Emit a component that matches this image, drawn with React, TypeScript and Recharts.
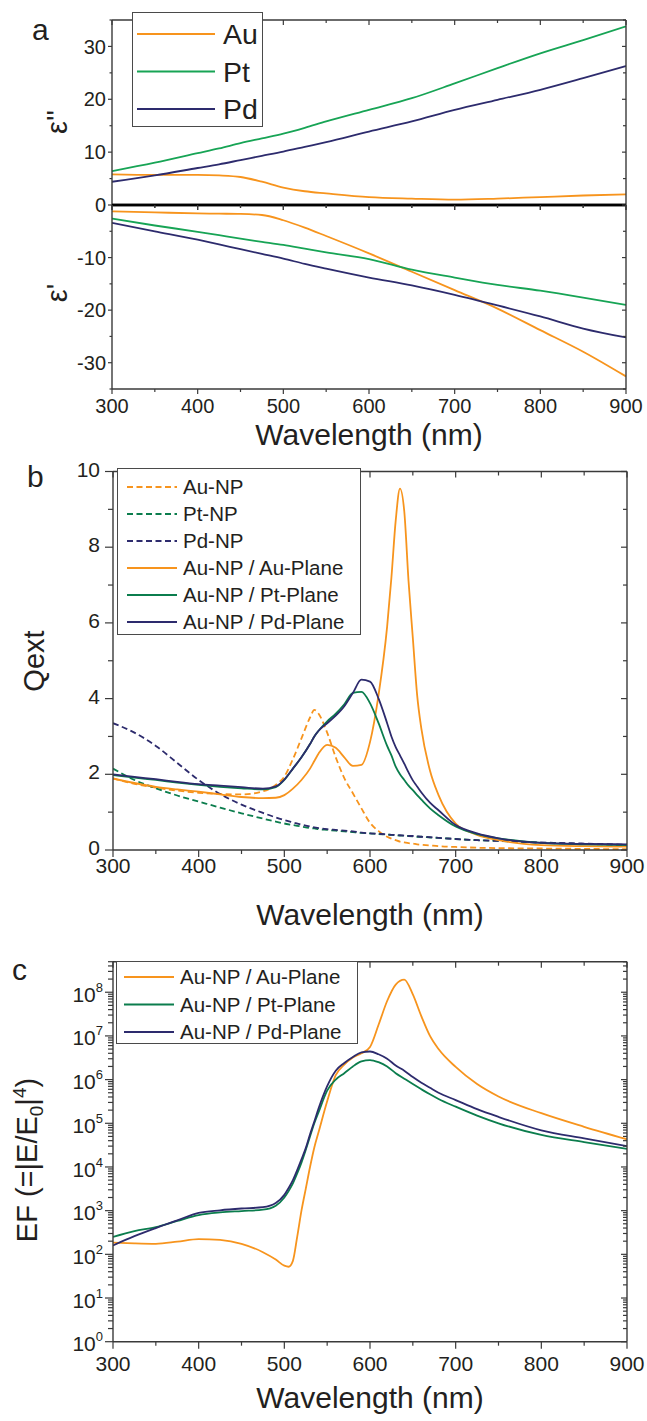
import React from "react";
import { Legend, Line, LineChart, XAxis, YAxis } from "recharts";

const FONT = '"Liberation Sans", Arial, Helvetica, sans-serif';
const INK = "#231f20";
const AXIS = "#3a3a3a";
const ORANGE = "#f7941d";
const GREEN_A = "#17a455";
const GREEN = "#0b7d4d";
const NAVY = "#2d2b6d";
const PAGE_W = 647;
const AX = 10;

// ---- panel a : dielectric function ----
const aWave = [300, 350, 400, 425, 450, 475, 500, 525, 550, 600, 650, 700, 750, 800, 850, 900];
const auEps2 = [5.8, 5.7, 5.7, 5.6, 5.3, 4.4, 3.3, 2.6, 2.2, 1.5, 1.2, 1.0, 1.2, 1.5, 1.8, 2.0];
const ptEps2 = [6.4, 8.0, 9.8, 10.7, 11.7, 12.6, 13.5, 14.6, 15.8, 18.0, 20.2, 23.0, 25.9, 28.7, 31.2, 33.8];
const pdEps2 = [4.4, 5.6, 7.0, 7.7, 8.5, 9.3, 10.1, 11.0, 11.9, 13.9, 15.8, 18.0, 19.9, 21.8, 24.0, 26.3];
const auEps1 = [-1.2, -1.4, -1.6, -1.65, -1.7, -1.9, -2.9, -4.3, -5.9, -9.2, -12.7, -16.2, -19.7, -23.8, -27.9, -32.6];
const ptEps1 = [-2.6, -3.9, -5.1, -5.75, -6.4, -7.0, -7.6, -8.3, -9.0, -10.3, -12.3, -13.8, -15.2, -16.3, -17.6, -19.0];
const pdEps1 = [-3.4, -5.0, -6.6, -7.5, -8.4, -9.3, -10.2, -11.2, -12.1, -13.8, -15.3, -17.1, -19.1, -21.2, -23.5, -25.2];

// ---- panel b : extinction efficiency ----
const bWave = [
  300, 325, 350, 375, 400, 425, 450, 475, 490, 500, 510, 520, 530, 535, 540, 550, 560, 570, 580, 590,
  600, 610, 620, 625, 630, 635, 640, 645, 650, 655, 660, 670, 680, 700, 725, 750, 800, 850, 900,
];
const auNP = [
  1.89, 1.75, 1.65, 1.57, 1.51, 1.48, 1.47, 1.55, 1.72, 1.94, 2.4, 2.95, 3.5, 3.7, 3.6, 3.1, 2.45, 1.9, 1.5, 1.1,
  0.72, 0.5, 0.35, 0.3, 0.26, 0.22, 0.2, 0.18, 0.17, 0.15, 0.14, 0.12, 0.1, 0.08, 0.06, 0.05, 0.04, 0.03, 0.02,
];
const ptNP = [
  2.15, 1.85, 1.63, 1.44, 1.28, 1.12, 0.97, 0.83, 0.75, 0.7, 0.66, 0.62, 0.58, 0.57, 0.55, 0.53, 0.51, 0.49, 0.47, 0.45,
  0.44, 0.42, 0.41, 0.4, 0.39, 0.38, 0.38, 0.37, 0.36, 0.35, 0.35, 0.33, 0.32, 0.29, 0.26, 0.24, 0.19, 0.16, 0.13,
];
const pdNP = [
  3.35, 3.1, 2.75, 2.3, 1.85, 1.48, 1.2, 0.98, 0.86, 0.79, 0.73, 0.67, 0.62, 0.6, 0.58, 0.55, 0.53, 0.51, 0.49, 0.46,
  0.44, 0.43, 0.41, 0.4, 0.4, 0.39, 0.38, 0.37, 0.37, 0.36, 0.35, 0.34, 0.32, 0.29, 0.26, 0.24, 0.2, 0.17, 0.14,
];
const auAu = [
  1.89, 1.77, 1.67, 1.6, 1.54, 1.47, 1.4, 1.37, 1.38, 1.45, 1.62, 1.85, 2.15, 2.35, 2.55, 2.78, 2.7, 2.45, 2.22, 2.25,
  2.85, 4.1, 5.9, 7.2, 8.7, 9.55, 8.95, 7.1, 5.6, 4.1, 3.2, 2.1, 1.45, 0.7, 0.4, 0.26, 0.13, 0.1, 0.09,
];
const auPt = [
  1.98, 1.91, 1.85, 1.78, 1.72, 1.67, 1.63, 1.6, 1.66, 1.85, 2.15, 2.45, 2.8, 3.0, 3.15, 3.4, 3.6, 3.85, 4.15, 4.18,
  3.88, 3.35, 2.75, 2.5, 2.2, 2.0, 1.85, 1.7, 1.58, 1.45, 1.33, 1.1, 0.92, 0.62, 0.42, 0.31, 0.19, 0.15, 0.13,
];
const auPd = [
  2.0, 1.93, 1.87, 1.8, 1.74, 1.7, 1.66, 1.62, 1.68, 1.86, 2.15, 2.45, 2.8, 3.0, 3.15, 3.35, 3.55, 3.8, 4.15, 4.5,
  4.45, 4.0, 3.35, 3.0, 2.72, 2.5, 2.28, 2.05, 1.84, 1.68, 1.52, 1.25, 1.05, 0.66, 0.44, 0.31, 0.19, 0.16, 0.15,
];

// ---- panel c : enhancement factor ----
const cWave = [
  300, 325, 350, 375, 400, 425, 450, 475, 490, 500, 505, 510, 515, 520, 525, 530, 535, 540, 550, 560,
  570, 580, 590, 600, 610, 620, 630, 640, 650, 660, 670, 680, 700, 725, 750, 800, 850, 900,
];
const efAu = [
  186, 178, 174, 195, 224, 214, 174, 112, 76, 55, 52, 71, 251, 1000, 3160, 1e4, 2.8e4, 6.3e4, 3.2e5, 1.26e6,
  2.2e6, 3.2e6, 4.0e6, 5.6e6, 1.8e7, 6.3e7, 1.5e8, 1.95e8, 8.9e7, 2.8e7, 1e7, 5e6, 1.95e6, 7.9e5, 4.1e5, 1.7e5, 8.3e4, 4.3e4,
];
const efPt = [
  250, 340, 420, 580, 790, 910, 980, 1050, 1300, 2000, 2800, 4200, 7100, 1.26e4, 2.45e4, 5.0e4, 1.0e5, 1.8e5, 5.6e5, 1.0e6,
  1.4e6, 2.0e6, 2.6e6, 2.8e6, 2.5e6, 2.0e6, 1.4e6, 1.05e6, 7.9e5, 6.0e5, 4.6e5, 3.6e5, 2.4e5, 1.5e5, 1.0e5, 5.4e4, 3.7e4, 2.6e4,
];
const efPd = [
  160, 260, 400, 600, 890, 1020, 1120, 1200, 1500, 2300, 3300, 5000, 8500, 1.5e4, 2.7e4, 5.6e4, 1.1e5, 2.2e5, 7.1e5, 1.6e6,
  2.4e6, 3.3e6, 4.2e6, 4.4e6, 3.8e6, 3.0e6, 2.1e6, 1.6e6, 1.15e6, 8.5e5, 6.5e5, 5.0e5, 3.4e5, 2.1e5, 1.4e5, 6.9e4, 4.5e4, 3.0e4,
];

// ---- ticks ----
const wlTicks = [300, 350, 400, 450, 500, 550, 600, 650, 700, 750, 800, 850, 900];
const epsTopTicks = [0, 5, 10, 15, 20, 25, 30, 35];
const epsBotTicks = [-35, -30, -25, -20, -15, -10, -5, 0];
const qTicks = [0, 1, 2, 3, 4, 5, 6, 7, 8, 9, 10];
const efDecades = [1, 10, 100, 1e3, 1e4, 1e5, 1e6, 1e7, 1e8];
const efTicks = efDecades
  .flatMap((d) => [1, 2, 3, 4, 5, 6, 7, 8, 9].map((k) => k * d))
  .filter((v) => v <= 5e8);

type Series = { key: string; name: string; color: string; dash?: string };

const aSeries: Series[] = [
  { key: "au", name: "Au", color: ORANGE },
  { key: "pt", name: "Pt", color: GREEN_A },
  { key: "pd", name: "Pd", color: NAVY },
];
const bSeries: Series[] = [
  { key: "auNP", name: "Au-NP", color: ORANGE, dash: "6 3.5" },
  { key: "ptNP", name: "Pt-NP", color: GREEN, dash: "6 3.5" },
  { key: "pdNP", name: "Pd-NP", color: NAVY, dash: "6 3.5" },
  { key: "auAu", name: "Au-NP / Au-Plane", color: ORANGE },
  { key: "auPt", name: "Au-NP / Pt-Plane", color: GREEN },
  { key: "auPd", name: "Au-NP / Pd-Plane", color: NAVY },
];
const cSeries: Series[] = [
  { key: "au", name: "Au-NP / Au-Plane", color: ORANGE },
  { key: "pt", name: "Au-NP / Pt-Plane", color: GREEN },
  { key: "pd", name: "Au-NP / Pd-Plane", color: NAVY },
];

type TickOpts = {
  side: "bottom" | "top" | "left" | "right";
  major: (v: number) => boolean;
  label?: (v: number) => React.ReactNode;
  skip?: (v: number) => boolean;
  fontSize?: number;
  gap?: number;
  dy?: number;
  len?: [number, number];
};

const makeTick = (o: TickOpts) => (p: any) => {
  const x = p.x as number;
  const y = p.y as number;
  const v = p.payload.value as number;
  if (o.skip && o.skip(v)) return <g />;
  const isMajor = o.major(v);
  const [ml, nl] = o.len ?? [5, 3];
  const l = isMajor ? ml : nl;
  const fs = o.fontSize ?? 20;
  const lab = isMajor && o.label ? o.label(v) : null;
  const ts = { fill: INK, fontSize: fs, fontFamily: FONT };
  const ln = { stroke: AXIS, strokeWidth: 1.2 };
  if (o.side === "bottom" || o.side === "top") {
    return (
      <g>
        <line x1={x} y1={y} x2={x} y2={y + l} {...ln} />
        {lab != null && (
          <text x={x} y={y + (o.gap ?? 22)} textAnchor="middle" {...ts}>
            {lab}
          </text>
        )}
      </g>
    );
  }
  if (o.side === "left") {
    return (
      <g>
        <line x1={x - l} y1={y} x2={x} y2={y} {...ln} />
        {lab != null && (
          <text x={x - (o.gap ?? 8)} y={y + fs * 0.36 + (o.dy ?? 0)} textAnchor="end" {...ts}>
            {lab}
          </text>
        )}
      </g>
    );
  }
  return (
    <g>
      <line x1={x} y1={y} x2={x - l} y2={y} {...ln} />
    </g>
  );
};

const by = (n: number) => (v: number) => Math.abs(v % n) < 1e-9;
const isDecade = (v: number) => Math.abs(Math.log10(v) - Math.round(Math.log10(v))) < 1e-9;

// panel a ticks
const aXTick = makeTick({ side: "bottom", major: by(100), label: String, fontSize: 20, gap: 24, len: [5, 3] });
const aZeroTick = makeTick({ side: "bottom", major: by(100), len: [5, 3] });
const aInTick = makeTick({ side: "top", major: by(100), len: [5, 3] });
const aYTopTick = makeTick({ side: "left", major: by(10), label: String, fontSize: 20, gap: 6, len: [4, 2.5] });
const aYBotTick = makeTick({
  side: "left",
  major: by(10),
  label: String,
  skip: (v) => v === 0,
  fontSize: 20,
  gap: 6,
  len: [4, 2.5],
});
const aYRightTick = makeTick({ side: "right", major: by(10), len: [4, 3] });

// panel b ticks
const bXTick = makeTick({ side: "bottom", major: by(100), label: String, fontSize: 21, gap: 22.5, len: [7, 4] });
const bTopTick = makeTick({ side: "top", major: by(100), len: [6, 4] });
const bYTick = makeTick({ side: "left", major: by(2), label: String, fontSize: 21, gap: 13, dy: -2.5, len: [8, 5] });
const bYRightTick = makeTick({ side: "right", major: by(2), len: [6, 4] });

// panel c ticks
const cXTick = makeTick({ side: "bottom", major: by(100), label: String, fontSize: 21, gap: 29, len: [7, 4] });
const cTopTick = makeTick({ side: "top", major: by(100), len: [6, 4] });
const cYTick = makeTick({
  side: "left",
  major: isDecade,
  label: (v) => (
    <>
      10
      <tspan dy={-10} fontSize={13}>
        {Math.round(Math.log10(v))}
      </tspan>
    </>
  ),
  fontSize: 21,
  gap: 10,
  dy: 2,
  len: [8, 5],
});
const cYRightTick = makeTick({ side: "right", major: isDecade, len: [6, 4] });

type Box = { l: number; r: number; t: number; b: number };
const plotMargin = (chartTop: number, chartH: number, box: Box) => ({
  left: box.l - AX,
  right: PAGE_W - box.r - AX,
  top: box.t - chartTop - AX,
  bottom: chartH - (box.b - chartTop) - AX,
});

type LegendGeom = {
  left: number;
  top: number;
  w: number;
  h: number;
  row0: number;
  rowGap: number;
  lineX: number;
  lineLen: number;
  textX: number;
  fontSize: number;
};

function LegendBox({ series, g }: { series: Series[]; g: LegendGeom }) {
  return (
    <svg width={g.w} height={g.h} style={{ display: "block" }}>
      <rect x={0.5} y={0.5} width={g.w - 1} height={g.h - 1} fill="#fff" stroke="#4a4a4a" strokeWidth={1} />
      {series.map((s, i) => {
        const cy = g.row0 + i * g.rowGap;
        return (
          <g key={s.key}>
            <line
              x1={g.lineX}
              x2={g.lineX + g.lineLen}
              y1={cy}
              y2={cy}
              stroke={s.color}
              strokeWidth={1.8}
              strokeDasharray={s.dash}
            />
            <text x={g.textX} y={cy + g.fontSize * 0.36} fontSize={g.fontSize} fontFamily={FONT} fill={INK}>
              {s.name}
            </text>
          </g>
        );
      })}
    </svg>
  );
}

const legendFor = (series: Series[], g: LegendGeom) => (
  <Legend
    layout="vertical"
    align="center"
    verticalAlign="middle"
    width={g.w}
    height={g.h}
    wrapperStyle={{ left: g.left, top: g.top, width: g.w, height: g.h }}
    content={() => <LegendBox series={series} g={g} />}
  />
);

const lines = (series: Series[], width = 1.8) =>
  series.map((s) => (
    <Line
      key={s.key}
      dataKey={s.key}
      name={s.name}
      type="monotone"
      stroke={s.color}
      strokeWidth={width}
      strokeDasharray={s.dash}
      dot={false}
      activeDot={false}
      isAnimationActive={false}
    />
  ));

const frame = { stroke: AXIS, strokeWidth: 1.4 };
const zeroLine = { stroke: "#000", strokeWidth: 2.4 };
const common = { tickLine: false, tickSize: 0, tickMargin: 0, interval: 0 as const, allowDataOverflow: true };

function PanelA() {
  const top = aWave.map((w, i) => ({ w, au: auEps2[i], pt: ptEps2[i], pd: pdEps2[i] }));
  const bottom = aWave.map((w, i) => ({ w, au: auEps1[i], pt: ptEps1[i], pd: pdEps1[i] }));
  const topBox = { l: 112, r: 626, t: 20, b: 205 };
  const botBox = { l: 112, r: 626, t: 205, b: 389 };
  return (
    <>
      <div style={{ position: "absolute", left: 0, top: 0 }}>
        <LineChart width={PAGE_W} height={215} data={top} margin={plotMargin(0, 215, topBox)}>
          <XAxis dataKey="w" type="number" domain={[300, 900]} ticks={wlTicks} height={AX} axisLine={zeroLine} tick={aZeroTick} {...common} />
          <XAxis xAxisId="top" orientation="top" dataKey="w" type="number" domain={[300, 900]} ticks={wlTicks} height={AX} axisLine={frame} tick={aInTick} {...common} />
          <YAxis type="number" domain={[0, 35]} ticks={epsTopTicks} width={AX} axisLine={frame} tick={aYTopTick} {...common} />
          <YAxis yAxisId="right" orientation="right" type="number" domain={[0, 35]} ticks={epsTopTicks} width={AX} axisLine={frame} tick={aYRightTick} {...common} />
          {lines(aSeries)}
          {legendFor(aSeries, {
            left: 132, top: 12, w: 131, h: 115, row0: 22, rowGap: 37.5, lineX: 5, lineLen: 78, textX: 91, fontSize: 28.5,
          })}
        </LineChart>
      </div>
      <div style={{ position: "absolute", left: 0, top: 195 }}>
        <LineChart width={PAGE_W} height={245} data={bottom} margin={plotMargin(195, 245, botBox)}>
          <XAxis dataKey="w" type="number" domain={[300, 900]} ticks={wlTicks} height={AX} axisLine={frame} tick={aXTick} {...common} />
          <XAxis xAxisId="top" orientation="top" dataKey="w" type="number" domain={[300, 900]} ticks={wlTicks} height={AX} axisLine={zeroLine} tick={aInTick} {...common} />
          <YAxis type="number" domain={[-35, 0]} ticks={epsBotTicks} width={AX} axisLine={frame} tick={aYBotTick} {...common} />
          <YAxis yAxisId="right" orientation="right" type="number" domain={[-35, 0]} ticks={epsBotTicks} width={AX} axisLine={frame} tick={aYRightTick} {...common} />
          {lines(aSeries)}
        </LineChart>
      </div>
    </>
  );
}

function PanelB() {
  const rows = bWave.map((w, i) => ({
    w,
    auNP: auNP[i],
    ptNP: ptNP[i],
    pdNP: pdNP[i],
    auAu: auAu[i],
    auPt: auPt[i],
    auPd: auPd[i],
  }));
  const box = { l: 113, r: 627, t: 471.5, b: 850 };
  return (
    <div style={{ position: "absolute", left: 0, top: 450 }}>
      <LineChart width={PAGE_W} height={440} data={rows} margin={plotMargin(450, 440, box)}>
        <XAxis dataKey="w" type="number" domain={[300, 900]} ticks={wlTicks} height={AX} axisLine={frame} tick={bXTick} {...common} />
        <XAxis xAxisId="top" orientation="top" dataKey="w" type="number" domain={[300, 900]} ticks={wlTicks} height={AX} axisLine={frame} tick={bTopTick} {...common} />
        <YAxis type="number" domain={[0, 10]} ticks={qTicks} width={AX} axisLine={frame} tick={bYTick} {...common} />
        <YAxis yAxisId="right" orientation="right" type="number" domain={[0, 10]} ticks={qTicks} width={AX} axisLine={frame} tick={bYRightTick} {...common} />
        {lines(bSeries)}
        {legendFor(bSeries, {
          left: 117, top: 18, w: 244, h: 167, row0: 19, rowGap: 27, lineX: 10, lineLen: 50, textX: 66, fontSize: 20.5,
        })}
      </LineChart>
    </div>
  );
}

function PanelC() {
  const rows = cWave.map((w, i) => ({ w, au: efAu[i], pt: efPt[i], pd: efPd[i] }));
  const box = { l: 113, r: 627, t: 961.7, b: 1341.7 };
  return (
    <div style={{ position: "absolute", left: 0, top: 940 }}>
      <LineChart width={PAGE_W} height={450} data={rows} margin={plotMargin(940, 450, box)}>
        <XAxis dataKey="w" type="number" domain={[300, 900]} ticks={wlTicks} height={AX} axisLine={frame} tick={cXTick} {...common} />
        <XAxis xAxisId="top" orientation="top" dataKey="w" type="number" domain={[300, 900]} ticks={wlTicks} height={AX} axisLine={frame} tick={cTopTick} {...common} />
        <YAxis type="number" scale="log" domain={[1, 5e8]} ticks={efTicks} width={AX} axisLine={frame} tick={cYTick} {...common} />
        <YAxis yAxisId="right" orientation="right" type="number" scale="log" domain={[1, 5e8]} ticks={efTicks} width={AX} axisLine={frame} tick={cYRightTick} {...common} />
        {lines(cSeries)}
        {legendFor(cSeries, {
          left: 116, top: 21, w: 242, h: 83, row0: 16, rowGap: 27.5, lineX: 8, lineLen: 50, textX: 64, fontSize: 20.5,
        })}
      </LineChart>
    </div>
  );
}

function Titles() {
  const t = { fill: INK, fontFamily: FONT };
  return (
    <svg
      width={PAGE_W}
      height={1421}
      style={{ position: "absolute", left: 0, top: 0, pointerEvents: "none" }}
    >
      <text x={32} y={40} fontSize={30} {...t}>a</text>
      <text x={27} y={487} fontSize={30} {...t}>b</text>
      <text x={12} y={980} fontSize={30} {...t}>c</text>

      <text transform="translate(67,122) rotate(-90)" textAnchor="middle" fontSize={29} {...t}>ε''</text>
      <text transform="translate(67,293) rotate(-90)" textAnchor="middle" fontSize={29} {...t}>ε'</text>
      <text transform="translate(44,661) rotate(-90)" textAnchor="middle" fontSize={29} {...t}>Qext</text>
      <text transform="translate(37,1160) rotate(-90)" textAnchor="middle" fontSize={29} {...t}>
        EF (=|E/E
        <tspan dy={6} fontSize={19}>0</tspan>
        <tspan dy={-6}>|</tspan>
        <tspan dy={-11} fontSize={19}>4</tspan>
        <tspan dy={11}>)</tspan>
      </text>

      <text x={369} y={445} textAnchor="middle" fontSize={30} {...t}>Wavelength (nm)</text>
      <text x={370} y={925} textAnchor="middle" fontSize={30} {...t}>Wavelength (nm)</text>
      <text x={370} y={1408} textAnchor="middle" fontSize={30} {...t}>Wavelength (nm)</text>
    </svg>
  );
}

export default function App() {
  return (
    <div
      style={{
        position: "absolute",
        left: 0,
        top: 0,
        width: PAGE_W,
        height: 1421,
        background: "#fff",
        fontFamily: FONT,
      }}
    >
      <PanelA />
      <PanelB />
      <PanelC />
      <Titles />
    </div>
  );
}
